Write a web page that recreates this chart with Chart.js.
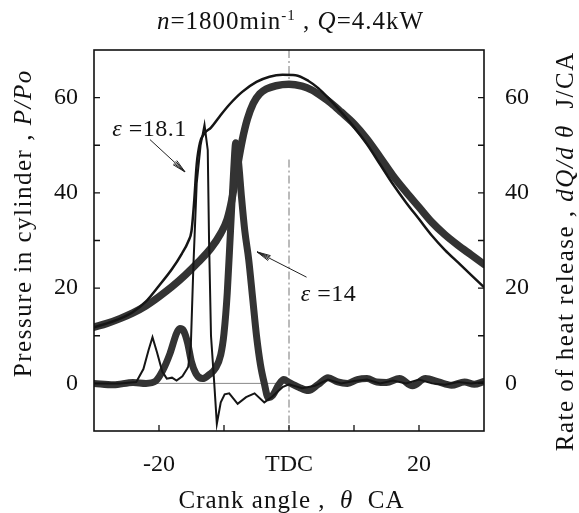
<!DOCTYPE html>
<html>
<head>
<meta charset="utf-8">
<script src="https://cdn.jsdelivr.net/npm/chart.js@4.4.1/dist/chart.umd.min.js"></script>
<style>
html,body{margin:0;padding:0;background:#fff;}
#c{display:block;}
</style>
</head>
<body>
<canvas id="c" width="579" height="513"></canvas>
<script>
// ---- Data ----
// Pressure in cylinder, eps = 14 (thick)
const thetaP14 = [-30,-28,-26,-24,-22,-20,-18,-16,-14,-12,-10.5,-9.5,-8.8,-8,-7.2,-6.4,-5.5,-4.5,-3.5,-2,0,2,3.5,5,6.5,8,10,12,14,16,18,20,22,24,26,28,30];
const pressure14 = [11.8,12.6,13.6,14.8,16.3,18.2,20.3,22.7,25.4,28.4,31.5,34.5,38.5,45,51,55.5,58.8,60.8,61.8,62.5,62.8,62.4,61.6,60.3,58.8,57,54.5,51.3,47.5,43.6,40.2,37,33.8,31.2,29,27,25];
// Pressure in cylinder, eps = 18.1 (thin)
const thetaP18 = [-30,-28,-26,-24,-22,-20,-18,-16.5,-15.5,-15,-14.6,-14.2,-13.7,-13,-12,-10.7,-9.2,-7.2,-5,-3,-1,1,3,4.5,6,8,10,12,14,16,18,20,22,24,26,28,30];
const pressure18 = [11.8,12.6,13.6,15,17.2,20.5,24,27.2,29.8,32,38,46,50.5,52.5,53.7,56,58.5,61.2,63.3,64.4,64.8,64.7,63.5,62,60,57,53.8,50.2,46,41.8,38,34.5,31,28,25.4,22.8,20.2];
// Rate of heat release, eps = 14 (thick)
const thetaH14 = [-30,-27,-24,-22,-20.5,-19.5,-18.3,-17.3,-16.8,-16.2,-15.6,-15,-14.3,-13.3,-12.3,-11.3,-10.5,-10,-9.5,-9,-8.5,-8.2,-7.8,-7.3,-6.8,-6.2,-5.6,-5,-4.4,-3.8,-3.2,-2.5,-1.6,-0.8,0,1.5,3,4.5,6,7.5,9,10.5,12,13.5,15,17,19,21,23,25,27,28.5,30];
const hrr14 = [0,-0.3,0.2,0,0.5,2.5,6.3,10.5,11.5,11,8.5,4.5,2,1,1.8,3.2,6,10.5,19,32,45,50.5,47,39,32,26,18,10,4,0,-3,-2.5,-0.3,0.8,0.2,-0.8,-1.5,-0.2,1.2,0.3,0,0.8,1,0.3,0.2,1,-0.5,1,0.3,-0.4,0.3,-0.2,0.4];
// Rate of heat release, eps = 18.1 (thin)
const thetaH18 = [-30,-26,-23.5,-22.4,-21.6,-21,-20.3,-19.5,-18.8,-18,-17.3,-16.4,-15.7,-15.5,-15.1,-14.7,-14.2,-13.6,-13,-12.5,-12.3,-12,-11.5,-11.1,-10.5,-9.9,-9.2,-7.9,-6.6,-5.3,-3.8,-2.6,-1,0,2,4,6,8,10,12,14,16,18,20,22,24,26,28,30];
const hrr18 = [0,0,0.3,3,7,9.7,6.5,2.5,1,1.2,0.6,1.5,3,3.5,8,25,42,50,54.3,49,30,10,0,-8.5,-4,-2.3,-2.1,-4.3,-2.9,-2.1,-4,-2.8,-0.8,-0.2,-1,-0.5,0.8,0,0.5,0.8,0,0.6,0,0.8,0,-0.3,0.3,0,0.3];
// Tick labels
const xTickLabels = {"-20":"-20","0":"TDC","20":"20"};
const yTickValues = [0,20,40,60];

function zip(xs, ys){ return xs.map((x,i)=>({x:x, y:ys[i]})); }

const SERIF = '"Liberation Serif","DejaVu Serif",serif';

function drawRich(ctx, segs, x, y, size, align, spacing){
  spacing = spacing || 0;
  const chars = [];
  segs.forEach(s=>{
    const fs = s.sup ? size*0.6 : size;
    const font = (s.i?'italic ':'') + fs + 'px ' + SERIF;
    ctx.font = font;
    for (const ch of s.t){
      chars.push({ch, font, sup:s.sup, w: ctx.measureText(ch).width});
    }
  });
  let total = 0;
  chars.forEach((c,k)=>{ total += c.w + (k<chars.length-1 ? spacing : 0); });
  let cx = align==='left' ? x : x - total/2;
  chars.forEach(c=>{
    ctx.font = c.font;
    ctx.fillText(c.ch, cx, c.sup ? y - size*0.38 : y);
    cx += c.w + spacing;
  });
}

function arrow(ctx, x1,y1,x2,y2){
  ctx.beginPath(); ctx.moveTo(x1,y1); ctx.lineTo(x2,y2); ctx.stroke();
  const a = Math.atan2(y2-y1, x2-x1), L = 14;
  [0.2,-0.2,0.1,-0.1].forEach(d=>{
    ctx.beginPath(); ctx.moveTo(x2,y2);
    ctx.lineTo(x2 - L*Math.cos(a+d), y2 - L*Math.sin(a+d)); ctx.stroke();
  });
}

const decor = {
  id:'decor',
  beforeDatasetsDraw(chart){
    const {ctx, scales:{x,y}} = chart;
    ctx.save();
    ctx.strokeStyle = '#777'; ctx.lineWidth = 1;
    // TDC reference line (dash-dot)
    ctx.setLineDash([8,3,2,3]);
    ctx.beginPath();
    ctx.moveTo(x.getPixelForValue(0), y.getPixelForValue(70));
    ctx.lineTo(x.getPixelForValue(0), y.getPixelForValue(62));
    ctx.moveTo(x.getPixelForValue(0), y.getPixelForValue(47));
    ctx.lineTo(x.getPixelForValue(0), y.getPixelForValue(-10));
    ctx.stroke();
    ctx.setLineDash([]);
    // zero baseline
    ctx.strokeStyle = '#888';
    ctx.beginPath();
    ctx.moveTo(x.getPixelForValue(-30), y.getPixelForValue(0));
    ctx.lineTo(x.getPixelForValue(0), y.getPixelForValue(0));
    ctx.stroke();
    ctx.restore();
  },
  afterDatasetsDraw(chart){
    const {ctx, chartArea:ca, scales:{x,y,y2}} = chart;
    ctx.save();
    // frame
    ctx.strokeStyle = '#111'; ctx.lineWidth = 1.6;
    ctx.strokeRect(ca.left, ca.top, ca.right-ca.left, ca.bottom-ca.top);
    // inside tick marks
    ctx.lineWidth = 1.3;
    ctx.beginPath();
    for (let v=-20; v<=20; v+=10){
      const px = x.getPixelForValue(v);
      ctx.moveTo(px, ca.bottom); ctx.lineTo(px, ca.bottom-6);
    }
    for (let v=0; v<=60; v+=10){
      const py = y.getPixelForValue(v);
      ctx.moveTo(ca.left, py); ctx.lineTo(ca.left+6, py);
      const py2 = y2.getPixelForValue(v);
      ctx.moveTo(ca.right, py2); ctx.lineTo(ca.right-6, py2);
    }
    ctx.stroke();

    // annotations
    ctx.fillStyle = '#111'; ctx.strokeStyle = '#222'; ctx.lineWidth = 1;
    ctx.textBaseline = 'middle';
    drawRich(ctx, [{t:'\u03b5',i:1},{t:' =18.1'}], x.getPixelForValue(-27.2), y.getPixelForValue(53.2), 24, 'left', 0.5);
    arrow(ctx, x.getPixelForValue(-21.4), y.getPixelForValue(51.2), x.getPixelForValue(-16), y.getPixelForValue(44.4));
    drawRich(ctx, [{t:'\u03b5',i:1},{t:' =14'}], x.getPixelForValue(1.8), y.getPixelForValue(18.7), 24, 'left', 0.5);
    arrow(ctx, x.getPixelForValue(2.7), y.getPixelForValue(22.3), x.getPixelForValue(-4.9), y.getPixelForValue(27.6));

    // title
    ctx.textBaseline = 'alphabetic';
    drawRich(ctx, [{t:'n',i:1},{t:'=1800min'},{t:'-1',sup:1},{t:' , '},{t:'Q',i:1},{t:'=4.4kW'}], 290, 29, 25, 'center', 1);
    // x axis title
    drawRich(ctx, [{t:'Crank angle ,  '},{t:'\u03b8',i:1},{t:'  CA'}], 291, 508, 25, 'center', 1);
    // left y title
    ctx.save();
    ctx.translate(31, 224); ctx.rotate(-Math.PI/2);
    drawRich(ctx, [{t:'Pressure in cylinder , '},{t:'P/Po',i:1}], 0, 0, 25, 'center', 1.5);
    ctx.restore();
    // right y title
    ctx.save();
    ctx.translate(573, 252); ctx.rotate(-Math.PI/2);
    drawRich(ctx, [{t:'Rate of heat release , '},{t:'dQ/d \u03b8',i:1},{t:'  J/CA'}], 0, 0, 25, 'center', 1.5);
    ctx.restore();
    ctx.restore();
  }
};

const tickFont = {family: SERIF, size: 24};

new Chart(document.getElementById('c'), {
  type: 'line',
  data: {
    datasets: [
      {label:'dQ/dθ ε=18.1', data: zip(thetaH18, hrr18), yAxisID:'y2', borderColor:'#151515', borderWidth:2, pointRadius:0, tension:0},
      {label:'P ε=18.1', data: zip(thetaP18, pressure18), yAxisID:'y', borderColor:'#151515', borderWidth:2.5, pointRadius:0, cubicInterpolationMode:'monotone'},
      {label:'dQ/dθ ε=14', data: zip(thetaH14, hrr14), yAxisID:'y2', borderColor:'#333', borderWidth:7, pointRadius:0, cubicInterpolationMode:'monotone', borderJoinStyle:'round', borderCapStyle:'round'},
      {label:'P ε=14', data: zip(thetaP14, pressure14), yAxisID:'y', borderColor:'#333', borderWidth:7.5, pointRadius:0, cubicInterpolationMode:'monotone', borderJoinStyle:'round', borderCapStyle:'round'}
    ]
  },
  options: {
    responsive: false,
    animation: false,
    layout: {padding: {top: 50, left: 0, right: 0, bottom: 0}},
    plugins: {legend: {display: false}, tooltip: {enabled: false}, title: {display: false}},
    scales: {
      x: {
        type: 'linear', min: -30, max: 30,
        ticks: {stepSize: 10, autoSkip: false, maxRotation: 0, font: tickFont, color: '#111', padding: 19,
          callback: v => (xTickLabels[String(v)] !== undefined ? xTickLabels[String(v)] : '')},
        grid: {display: false, drawTicks: false},
        border: {display: false},
        afterFit: s => { s.height = 82; }
      },
      y: {
        position: 'left', min: -10, max: 70,
        ticks: {stepSize: 10, font: tickFont, color: '#111', padding: 16,
          callback: v => (yTickValues.includes(v) ? String(v) : '')},
        grid: {display: false, drawTicks: false},
        border: {display: false},
        afterFit: s => { s.width = 94; }
      },
      y2: {
        position: 'right', min: -10, max: 70,
        ticks: {stepSize: 10, font: tickFont, color: '#111', padding: 21,
          callback: v => (yTickValues.includes(v) ? String(v) : '')},
        grid: {display: false, drawTicks: false},
        border: {display: false},
        afterFit: s => { s.width = 95; }
      }
    }
  },
  plugins: [decor]
});
</script>
</body>
</html>
